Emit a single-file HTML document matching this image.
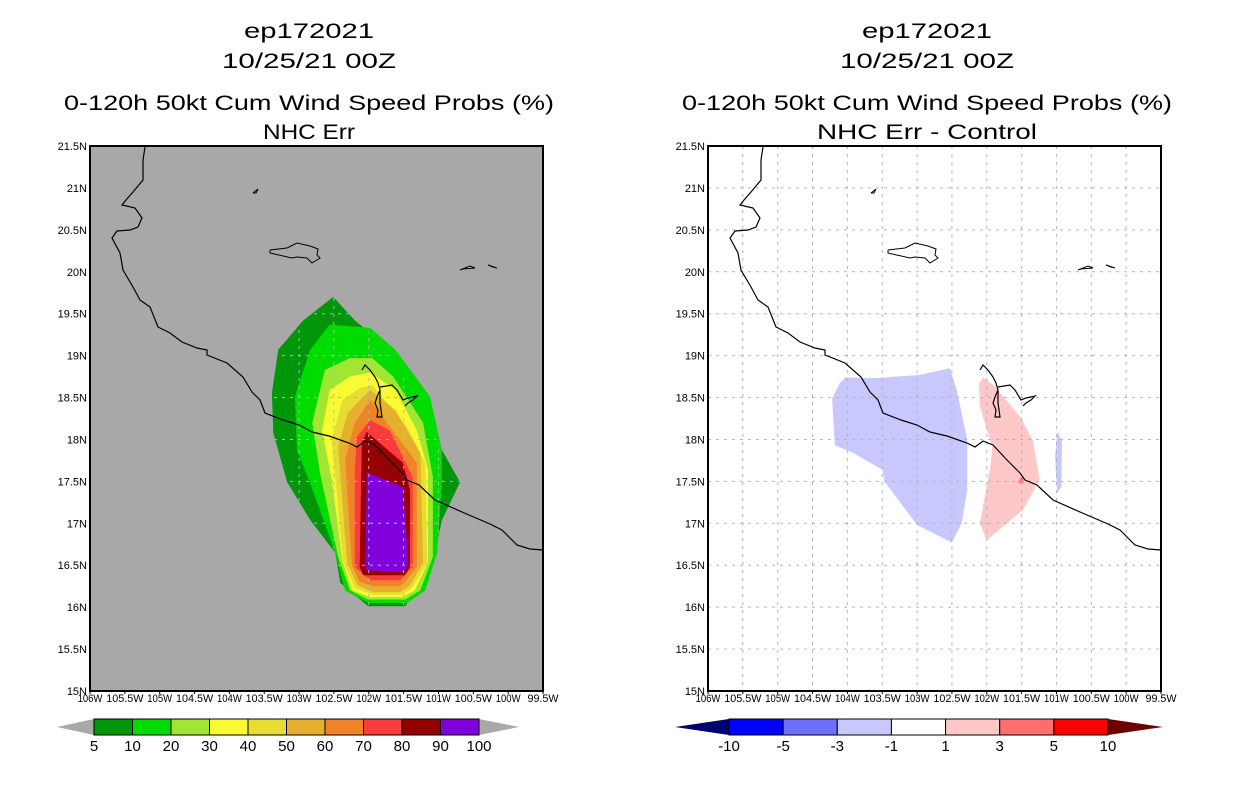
<!DOCTYPE html>
<html><head><meta charset="utf-8"><style>
body{margin:0;background:#fff}
svg{display:block;font-family:"Liberation Sans",sans-serif}
</style></head><body>
<svg id="s" width="1236" height="800" viewBox="0 0 1236 800"></svg>
<script>
// ---- data ----
const lonTicks=[-106,-105.5,-105,-104.5,-104,-103.5,-103,-102.5,-102,-101.5,-101,-100.5,-100,-99.5];
const lonLabels=["106W","105.5W","105W","104.5W","104W","103.5W","103W","102.5W","102W","101.5W","101W","100.5W","100W","99.5W"];
const latTicks=[15,15.5,16,16.5,17,17.5,18,18.5,19,19.5,20,20.5,21,21.5];
const latLabels=["15N","15.5N","16N","16.5N","17N","17.5N","18N","18.5N","19N","19.5N","20N","20.5N","21N","21.5N"];
const probLevels=["5","10","20","30","40","50","60","70","80","90","100"];
const probColors=["#00960a","#00dc00","#a0e632","#fafa32","#e6dc32","#e6af2d","#f08228","#fa3c3c","#960000","#8200dc"];
const diffLevels=["-10","-5","-3","-1","1","3","5","10"];
const diffColors=["#0000ff","#6e6eff","#c8c8ff","#ffffff","#ffc8c8","#ff6e6e","#ff0000"];
const p5=[[-102.51,19.70],[-102.20,19.42],[-101.70,19.07],[-101.38,18.55],[-101.09,18.08],[-100.69,17.49],[-100.95,17.04],[-101.05,16.65],[-101.26,16.29],[-101.48,16.01],[-102.01,16.01],[-102.41,16.29],[-102.48,16.65],[-102.84,17.04],[-103.17,17.49],[-103.37,18.08],[-103.39,18.55],[-103.30,19.07],[-102.94,19.42]];
const p10=[[-102.56,19.37],[-101.98,19.33],[-101.62,19.07],[-101.12,18.51],[-100.95,17.87],[-100.95,17.48],[-101.02,16.65],[-101.19,16.20],[-101.45,16.05],[-102.01,16.05],[-102.34,16.20],[-102.48,16.65],[-102.84,17.48],[-103.03,17.87],[-103.06,18.51],[-102.84,19.07]];
const p20=[[-102.27,18.97],[-101.95,18.97],[-101.65,18.75],[-101.22,18.20],[-101.08,17.55],[-101.08,16.60],[-101.26,16.20],[-101.48,16.09],[-102.01,16.09],[-102.27,16.20],[-102.44,16.60],[-102.70,17.60],[-102.81,18.20],[-102.63,18.83]];
const p30=[[-101.98,18.80],[-101.62,18.59],[-101.31,18.11],[-101.15,17.64],[-101.15,16.53],[-101.34,16.20],[-101.51,16.12],[-101.98,16.12],[-102.24,16.20],[-102.38,16.56],[-102.53,17.52],[-102.67,18.11],[-102.56,18.59],[-102.27,18.75]];
const p40=[[-101.95,18.65],[-101.45,18.15],[-101.19,17.72],[-101.16,16.53],[-101.38,16.23],[-101.52,16.15],[-101.95,16.15],[-102.20,16.23],[-102.37,16.56],[-102.53,17.99],[-102.38,18.47],[-102.13,18.61]];
const p50=[[-101.98,18.59],[-101.62,18.35],[-101.26,17.84],[-101.22,16.53],[-101.41,16.26],[-101.55,16.18],[-101.94,16.18],[-102.16,16.26],[-102.31,16.53],[-102.44,17.91],[-102.30,18.32]];
const p60=[[-101.98,18.47],[-101.31,17.72],[-101.31,16.48],[-101.48,16.30],[-101.55,16.25],[-101.92,16.25],[-102.13,16.30],[-102.24,16.50],[-102.34,17.76],[-102.20,18.20]];
const p70=[[-101.98,18.23],[-101.70,18.11],[-101.37,17.55],[-101.37,16.48],[-101.55,16.32],[-101.98,16.32],[-102.20,16.48],[-102.20,17.64],[-102.17,18.03]];
const p80=[[-102.03,18.09],[-101.51,17.72],[-101.41,17.40],[-101.41,16.48],[-101.48,16.38],[-102.08,16.38],[-102.13,16.48],[-102.10,17.96]];
const p90=[[-102.03,17.61],[-101.51,17.43],[-101.44,16.65],[-101.44,16.48],[-101.51,16.42],[-102.05,16.44]];
const negArea=[[-104.11,18.67],[-104.03,18.74],[-103.63,18.73],[-102.96,18.77],[-102.53,18.85],[-102.43,18.59],[-102.28,17.99],[-102.28,17.40],[-102.36,17.00],[-102.50,16.77],[-103.00,16.98],[-103.46,17.49],[-103.50,17.64],[-103.92,17.84],[-104.18,17.93],[-104.22,18.49]];
const negSliver=[[-100.99,18.09],[-100.92,17.99],[-100.93,17.43],[-100.99,17.36],[-101.02,17.79]];
const posArea=[[-102.05,18.74],[-101.88,18.63],[-101.52,18.27],[-101.34,17.99],[-101.24,17.52],[-101.48,17.16],[-102.00,16.80],[-102.10,17.00],[-101.95,17.67],[-101.92,17.91],[-102.10,18.39],[-102.11,18.67]];
const posSpot=[[-101.49,17.58],[-101.55,17.48],[-101.47,17.48]];
// basemap (pixel offsets inside map frame)
const coast=[[55,1],[53,14],[53,34],[43,46],[36,54],[32,59],[45,62],[52,72],[48,81],[40,84],[27,85],[22,92],[30,107],[33,124],[43,141],[50,154],[60,161],[68,181],[80,187],[92,196],[107,202],[117,204],[117,209],[137,217],[153,231],[162,246],[170,254],[175,267],[193,274],[209,279],[222,286],[239,290],[259,297],[267,301],[275,295],[285,299],[299,314],[312,327],[317,334],[329,339],[345,354],[372,366],[400,378],[412,384],[427,399],[440,403],[453,404]];
const island1=[[180,104],[197,102],[207,97],[220,100],[228,103],[227,109],[230,112],[222,117],[217,112],[207,111],[202,112],[180,107]];
const island2=[[163,47],[168,43],[166,47]];
const island3=[[370,124],[380,120],[385,122],[373,123]];
const island4=[[398,119],[403,121],[407,122]];
const lake1=[[272,224],[275,219],[280,224],[285,231],[288,237],[290,244],[287,251],[285,257],[288,264],[287,271],[292,271],[290,257],[290,244]];
const lake2=[[290,241],[302,239],[307,244],[313,254],[318,252],[327,250],[323,254],[318,257],[315,260]];

const S=document.getElementById('s');const NS='http://www.w3.org/2000/svg';
function mk(t,a,p){const e=document.createElementNS(NS,t);for(const k in a)e.setAttribute(k,a[k]);(p||S).appendChild(e);return e;}
const W=453,H=545;
function panel(x0,y0){
  return {x:l=>x0+(l+106)/6.5*W, y:l=>y0+(21.5-l)/6.5*H, x0,y0};
}
function pts(P,arr){return arr.map(d=>P.x(d[0]).toFixed(1)+','+P.y(d[1]).toFixed(1)).join(' ');}
function ppx(P,arr){return arr.map(d=>(P.x0+d[0])+','+(P.y0+d[1])).join(' ');}
function text(x,y,s,size,anchor,name,len){const t=mk('text',{x,y,'font-size':size,'text-anchor':anchor,fill:'#000'});t.textContent=s;
if(len){t.setAttribute('textLength',len);t.setAttribute('lengthAdjust','spacingAndGlyphs');}

return t;}
function drawPanel(P,cx,titles,lens,left){
  const g=mk('g',{});
  
  
  const bg=mk('rect',{x:P.x0,y:P.y0,width:W,height:H,fill:left?'#a8a8a8':'#fff'},g);
  
  
  if(left){
    const polys=[p5,p10,p20,p30,p40,p50,p60,p70,p80,p90];
    polys.forEach((p,i)=>{const e=mk('polygon',{points:pts(P,p),fill:probColors[i]},g);
      
      });
    const cp=mk('clipPath',{id:'cp'},g);mk('polygon',{points:pts(P,p5)},cp);
  } else {
    [[negArea,diffColors[2]],[negSliver,diffColors[2]],[posArea,diffColors[4]],[posSpot,diffColors[5]]].forEach((d,i)=>{
      const e=mk('polygon',{points:pts(P,d[0]),fill:d[1]},g);
      
      });
  }
  const gg=mk('g',left?{'clip-path':'url(#cp)'}:{},g);
  
  
  lonTicks.slice(1,-1).forEach(l=>mk('line',{x1:P.x(l),x2:P.x(l),y1:P.y0,y2:P.y0+H,stroke:'#b4b4b4','stroke-dasharray':'3,5'},gg));
  latTicks.slice(1,-1).forEach(l=>mk('line',{y1:P.y(l),y2:P.y(l),x1:P.x0,x2:P.x0+W,stroke:'#b4b4b4','stroke-dasharray':'3,5'},gg));
  const cst=mk('polyline',{points:ppx(P,coast),fill:'none',stroke:'#000','stroke-width':1.2},g);
  
  
  [island1,island2,island3,island4].forEach(d=>mk('polyline',{points:ppx(P,d.concat([d[0]])),fill:'none',stroke:'#000','stroke-width':1},g));
  [lake1,lake2].forEach(d=>mk('polyline',{points:ppx(P,d),fill:'none',stroke:'#000','stroke-width':1.2},g));
  const fr=mk('rect',{x:P.x0,y:P.y0,width:W,height:H,fill:'none',stroke:'#000','stroke-width':2},g);
  
  
  lonTicks.forEach((l,i)=>{text(P.x(l),P.y0+H+11,lonLabels[i],11,'middle','x-tick-label',lonLabels[i].length*6.2);mk('line',{x1:P.x(l),x2:P.x(l),y1:P.y0+H,y2:P.y0+H+3,stroke:'#000'},g);});
  latTicks.forEach((l,i)=>{text(P.x0-3,P.y(l)+4,latLabels[i],11,'end','y-tick-label');});
  const ty=[38,68,110,139];
  titles.forEach((t,i)=>text(cx,ty[i],t,21,'middle','title-line-'+(i+1),lens[i]));
}
drawPanel(panel(90,146),309,["ep172021","10/25/21 00Z","0-120h 50kt Cum Wind Speed Probs (%)","NHC Err"],[130,174,490,92],true);
drawPanel(panel(708,146),927,["ep172021","10/25/21 00Z","0-120h 50kt Cum Wind Speed Probs (%)","NHC Err - Control"],[130,174,490,220],false);
// colorbars
function cbar(x0,x1,t0,t1,colors,labels,lc,rc,name){
  const g=mk('g',{});
  
  
  const y0=719,y1=735,ym=727,bw=(x1-x0)/colors.length;
  mk('polygon',{points:`${t0},${ym} ${x0},${y0} ${x0},${y1}`,fill:lc},g);
  mk('polygon',{points:`${t1},${ym} ${x1},${y0} ${x1},${y1}`,fill:rc},g);
  colors.forEach((c,i)=>{const r=mk('rect',{x:x0+i*bw,y:y0,width:bw,height:y1-y0,fill:c,stroke:'#000','stroke-width':1},g);
    
    });
  labels.forEach((s,i)=>text(x0+i*bw,751,s,15,'middle','colorbar-label'));
}
cbar(94,479,57,519,probColors,probLevels,'#a8a8a8','#a8a8a8','prob-colorbar');
cbar(729,1108,675,1163,diffColors,diffLevels,'#00006e','#6e0000','diff-colorbar');
</script>
</body></html>
